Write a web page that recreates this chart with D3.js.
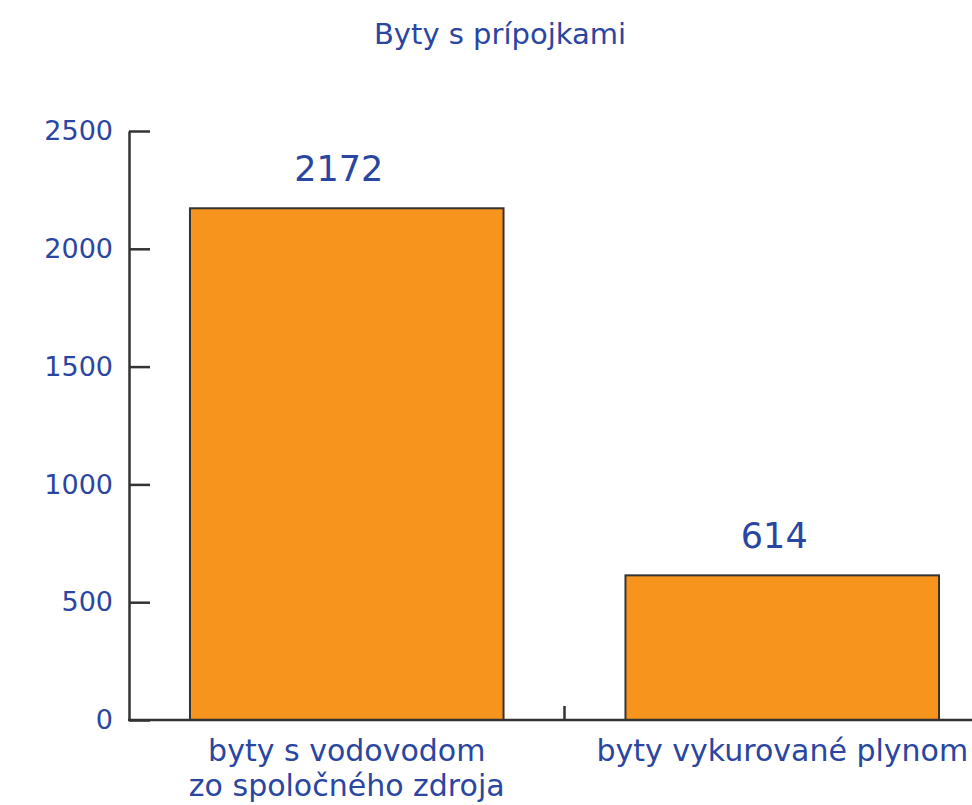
<!DOCTYPE html>
<meta charset="utf-8">
<style>
  body { margin: 0; background: #fff; }
  text { font-family: "DejaVu Sans", Arial, sans-serif; fill: #2a46a0; }
</style>
<body>
<script src="https://d3js.org/d3.v7.min.js"></script>
<script>

var categories = [["byty s vodovodom", "zo spoločného zdroja"], ["byty vykurované plynom"]];
var values = [2172, 614];
var yTicks = [0, 500, 1000, 1500, 2000, 2500];
var title = "Byty s prípojkami";

var width = 972,
    height = 805,
    plotLeft = 129,
    plotTop = 131,
    plotBottom = 720,
    plotRight = 1000;

var axisColor = "#333";

var svg = d3.select("body").append("svg")
    .attr("width", width)
    .attr("height", height);

var x = d3.scaleBand()
    .domain(d3.range(values.length))
    .range([plotLeft, plotRight])
    .paddingInner(0.28)
    .paddingOuter(0.14);

var band = d3.scaleBand()
    .domain(d3.range(values.length))
    .range([plotLeft, plotRight]);

var y = d3.scaleLinear()
    .domain([0, 2500])
    .range([plotBottom, plotTop]);

svg.append("text")
    .attr("x", 500)
    .attr("y", 44)
    .attr("text-anchor", "middle")
    .style("font-size", "29px")
    .text(title);

// bars
svg.selectAll("rect.bar")
    .data(values)
  .enter().append("rect")
    .attr("class", "bar")
    .attr("x", function(d, i) { return x(i); })
    .attr("width", x.bandwidth())
    .attr("y", function(d) { return y(d); })
    .attr("height", function(d) { return y(0) - y(d); })
    .style("fill", "#f7941d")
    .style("stroke", "#333")
    .style("stroke-width", 2);

// value labels
svg.selectAll("text.val")
    .data(values)
  .enter().append("text")
    .attr("class", "val")
    .attr("x", function(d, i) { return x(i) + x.bandwidth() / 2; })
    .attr("y", function(d) { return y(d) - 27; })
    .attr("dx", -8)
    .attr("text-anchor", "middle")
    .style("font-size", "35px")
    .text(function(d) { return d; });

// y axis, ticks pointing inside
var yAxis = svg.append("g")
    .attr("transform", "translate(" + plotLeft + ",0)")
    .call(d3.axisLeft(y).tickValues(yTicks).tickFormat(d3.format("d"))
      .tickSizeInner(-21).tickSizeOuter(0).tickPadding(16));

yAxis.select(".domain").style("stroke", axisColor).style("stroke-width", 2.5);
yAxis.selectAll(".tick line").style("stroke", axisColor).style("stroke-width", 2.5);
yAxis.selectAll(".tick text")
    .style("font-family", "DejaVu Sans, Arial, sans-serif")
    .style("font-size", "27px")
    .attr("fill", "#2a46a0");

// baseline
svg.append("line")
    .attr("x1", plotLeft - 1)
    .attr("x2", plotRight)
    .attr("y1", y(0))
    .attr("y2", y(0))
    .style("stroke", axisColor)
    .style("stroke-width", 2.5);

// category separator ticks
svg.selectAll("line.sep")
    .data(d3.range(1, values.length))
  .enter().append("line")
    .attr("class", "sep")
    .attr("x1", function(i) { return band(i); })
    .attr("x2", function(i) { return band(i); })
    .attr("y1", y(0))
    .attr("y2", y(0) - 14)
    .style("stroke", axisColor)
    .style("stroke-width", 2.5);

// category labels
var cat = svg.selectAll("text.cat")
    .data(categories)
  .enter().append("text")
    .attr("class", "cat")
    .attr("text-anchor", "middle")
    .style("font-size", "30px");

cat.selectAll("tspan")
    .data(function(d, i) { return d.map(function(s) { return { s: s, i: i }; }); })
  .enter().append("tspan")
    .attr("x", function(d) { return band(d.i) + band.bandwidth() / 2; })
    .attr("y", function(d, j) { return 761 + j * 35; })
    .text(function(d) { return d.s; });

</script>
</body>
</html>
